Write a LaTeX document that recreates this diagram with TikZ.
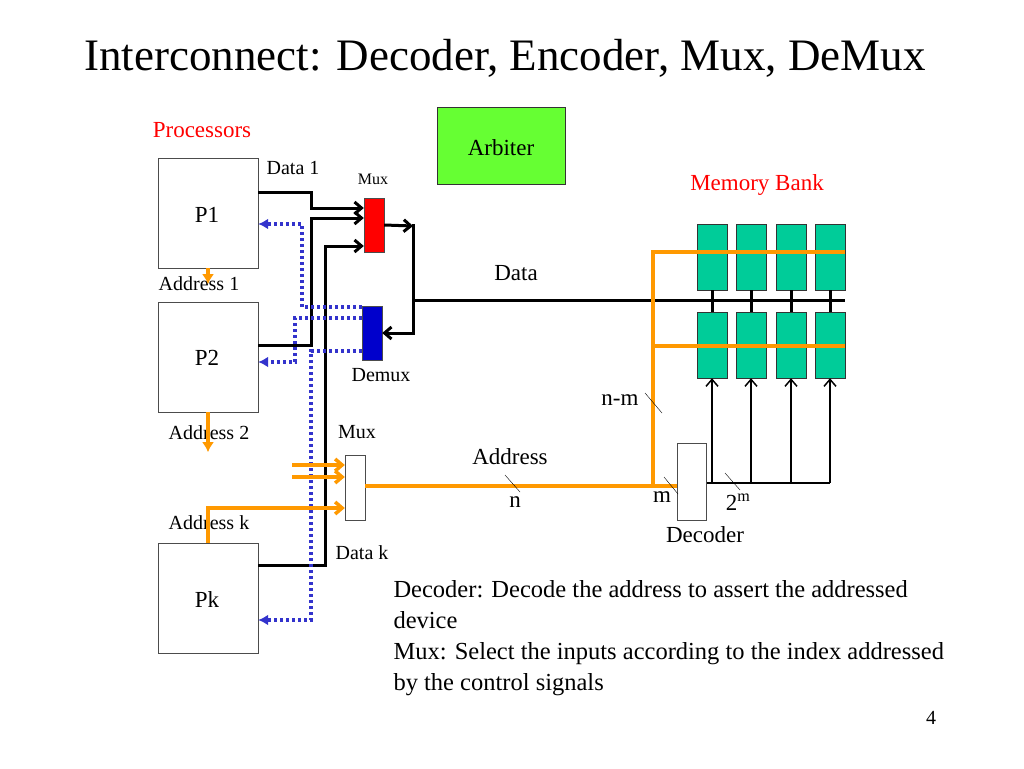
\documentclass[tikz,border=0pt]{standalone}
\usepackage{fontspec}
\setmainfont{Liberation Serif}
\usetikzlibrary{arrows.meta,positioning}
\definecolor{arbgreen}{RGB}{102,255,51}
\definecolor{memgreen}{RGB}{0,204,153}
\definecolor{addrorange}{RGB}{255,153,0}
\definecolor{dotblue}{RGB}{51,51,204}
\begin{document}
\begin{tikzpicture}[x=1pt, y=-1pt, >={Straight Barb[length=7pt,width=12pt]}, font=\fontsize{23}{27}\selectfont]
    % Define styles for blocks, buses and labels
    \tikzstyle{box} = [draw=black!70, fill=white, rectangle, inner sep=0pt, minimum width=100pt, minimum height=110pt]
    \tikzstyle{sel} = [draw=black!70, rectangle, inner sep=0pt, minimum width=20pt, minimum height=54pt]
    \tikzstyle{mem} = [draw=black!80, fill=memgreen, rectangle, inner sep=0pt, minimum width=30pt, minimum height=66pt]
    \tikzstyle{bus} = [draw=black, line width=3pt]
    \tikzstyle{addr} = [draw=addrorange, line width=3.5pt]
    \tikzstyle{back} = [draw=dotblue, line width=3.5pt, dash pattern=on 3pt off 3pt, -{Latex[length=10pt,width=11pt]}]
    \tikzstyle{small} = [font=\fontsize{20}{23}\selectfont]
    \useasboundingbox (0,0) rectangle (1024,768);

    % Title and headings
    \node (title) at (505,58) {\fontsize{45}{52}\selectfont Interconnect: Decoder, Encoder, Mux, DeMux};
    \node[text=red] (proclabel) at (202,130) {Processors};
    \node[text=red] (memlabel) at (757,185) {Memory Bank};
    \node[draw=black!80, fill=arbgreen, minimum width=128pt, minimum height=77pt, inner sep=0pt] (arbiter) at (501,146) {};
    \node (arblabel) at (501,148) {Arbiter};

    % Processors
    \node[box] (P1) at (208,213) {};
    \node (P1label) at (207,215) {P1};
    \node[box] (P2) at (208,357) {};
    \node (P2label) at (207,358) {P2};
    \node[box] (Pk) at (208,598) {};
    \node (Pklabel) at (207,600) {Pk};

    % Mux, demux, address mux and decoder
    \node[sel, fill=red] (mux) at (374,225) {};
    \node[sel, fill=blue!80!black] (demux) at (372,333) {};
    \node[sel, fill=white, minimum height=65pt] (amux) at (355,488) {};
    \node[sel, fill=white, minimum width=29pt, minimum height=77pt] (decoder) at (692,482) {};

    % Memory bank
    \foreach \i/\x in {1/712,2/751,3/791,4/830} {
        \node[mem] (mt\i) at (\x,257) {};
        \node[mem] (mb\i) at (\x,345) {};
    }

    % Labels
    \node[small] (data1) at (293,168) {Data 1};
    \node[font=\fontsize{16}{18}\selectfont] (muxlabel) at (373,179) {Mux};
    \node[small] (demuxlabel) at (381,375) {Demux};
    \node (datalabel) at (516,273) {Data};
    \node[small] (addr1) at (199,284) {Address 1};
    \node[small] (addr2) at (209,433) {Address 2};
    \node[small] (addrk) at (209,523) {Address k};
    \node[small] (amuxlabel) at (357,432) {Mux};
    \node[small] (datak) at (362,553) {Data k};
    \node (addrlabel) at (510,457) {Address};
    \node (nlabel) at (515,502) {n};
    \node (nmlabel) at (620,400) {n-m};
    \node (mlabel) at (662,497) {m};
    \node (twom) at (738,502) {2\textsuperscript{m}};
    \node (declabel) at (705,535) {Decoder};
    \node[anchor=north west, align=left, font=\fontsize{24.5}{31}\selectfont] (note) at (390,577)
        {Decoder: Decode the address to assert the addressed\\device\\Mux: Select the inputs according to the index addressed\\by the control signals};
    \node[small] (page) at (931,718) {4};

    % Data path into the mux
    \draw[bus,->] ([yshift=21pt]P1.east) -| (311,208) -- (mux.west |- 0,208);
    \draw[bus,->] ([yshift=12pt]P2.east) -| (311,218) -- (mux.west |- 0,218);
    \draw[bus,->] ([yshift=33pt]Pk.east) -| (325,246) -- (mux.west |- 0,246);
    \draw[bus,->] (mux.east) -- (413,226);
    \draw[bus,->] (413,224) |- (demux.east);
    \draw[bus] (413,300) -- (mt4.east |- 0,300);
    \foreach \i in {1,...,4} {
        \draw[bus] (mt\i.south) -- (mb\i.north);
    }

    % Return path from the demux
    \draw[back] (demux.west |- 0,307) -| (302,224) -- (P1.east |- 0,224);
    \draw[back] (demux.west |- 0,318) -| (295,362) -- (P2.east |- 0,362);
    \draw[back] (demux.west |- 0,351) -| (311,620) -- (Pk.east |- 0,620);

    % Address lines
    \draw[addr,-{Latex[length=10pt,width=12pt]}] (P1.south) -- ++(0,16);
    \draw[addr,-{Latex[length=10pt,width=12pt]}] (P2.south) -- ++(0,40);
    \draw[addr,->] (Pk.north) |- (amux.west |- 0,508);
    \draw[addr,->] (292,465) -- (amux.west |- 0,465);
    \draw[addr,->] (292,477) -- (amux.west |- 0,477);
    \draw[addr] (amux.east |- 0,486) -- (decoder.west |- 0,486);
    \draw[addr] (653,486) |- (mt4.east |- 0,252);
    \draw[addr] (653,346) -- (mb4.east |- 0,346);

    % Decoder outputs
    \draw[line width=1.5pt] (decoder.east |- 0,483) -- (830,483);
    \foreach \i in {1,...,4} {
        \draw[line width=1.5pt,->] (mb\i.south |- 0,483) -- (mb\i.south);
    }

    % Width marks
    \draw (505,475) -- (520,492);
    \draw (645,393) -- (662,413);
    \draw (664,477) -- (678,494);
    \draw (725,473) -- (740,490);
\end{tikzpicture}
\end{document}
